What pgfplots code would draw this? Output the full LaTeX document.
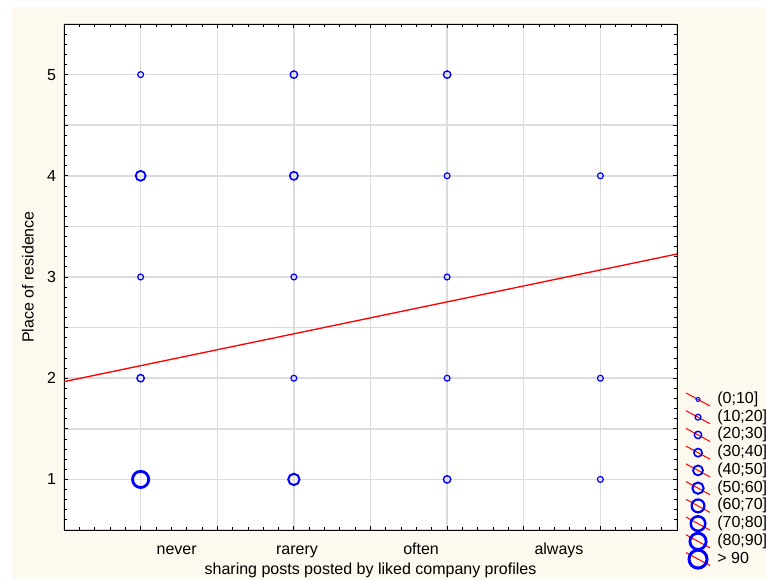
\documentclass[border=0pt]{standalone}
\usepackage{fontspec}
\setmainfont{Liberation Sans}
\usepackage{pgfplots}
\pgfplotsset{compat=1.18}
\usetikzlibrary{backgrounds}
\definecolor{cream}{RGB}{253,249,238}
\definecolor{gridgray}{RGB}{220,220,220}
\pgfplotsset{
  bub/.style 2 args={only marks, mark=o, color=blue, mark size=#1,
    mark options={line width=#2, draw=blue, solid},
    legend image code/.code={
      \path[draw=none,fill=none] (0pt,-6.5pt) rectangle (18pt,6.5pt);
      \draw[overlay,red,line width=0.75pt] (0pt,4.9pt) -- (18pt,-4.9pt);
      \draw[overlay,blue,line width=#2,fill=none] (9pt,0pt) circle (#1);
    }},
  cA/.style={bub={1.5pt}{0.75pt}},
  cB/.style={bub={2.2pt}{0.9pt}},
  cC/.style={bub={2.75pt}{1.05pt}},
  cD/.style={bub={3.1pt}{1.2pt}},
  cE/.style={bub={3.71pt}{1.35pt}},
  cF/.style={bub={4.24pt}{1.5pt}},
  cG/.style={bub={4.8pt}{1.65pt}},
  cH/.style={bub={5.44pt}{1.88pt}},
  cI/.style={bub={6.08pt}{2.1pt}},
  cJ/.style={bub={6.75pt}{2.25pt}},
}
\begin{document}
\begin{tikzpicture}[x=0.75pt,y=0.75pt]
\begin{axis}[
  scale only axis, width=459.75pt, height=379.5pt,
  font=\fontsize{12}{14}\selectfont,
  /pgf/number format/assume math mode=true,
  axis background/.style={fill=white},
  axis line style={black, line width=0.75pt},
  xmin=0.5, xmax=4.5, ymin=0.5, ymax=5.5,
  xtick={0.5,1,...,4.5}, ytick={0.5,1,...,5.5},
  xticklabels={,,,,,,,,},
  yticklabels={,1,,2,,3,,4,,5,},
  minor x tick num=4, minor y tick num=4,
  tick align=inside, tick pos=both,
  major tick length=3pt, minor tick length=2pt,
  tick style={black, line width=0.6pt},
  grid=major,
  major grid style={gridgray, line width=1.1pt},
  yticklabel style={xshift=-2.5pt},
  extra x ticks={1.235,2.02,2.83,3.73},
  extra x tick labels={never,rarery,often,always},
  extra x tick style={grid=none, major tick length=0pt,
    tick label style={anchor=base, yshift=-18.5pt}},
  xlabel={sharing posts posted by liked company profiles},
  xlabel style={at={(axis description cs:0.5,0)}, anchor=base, yshift=-33.5pt},
  ylabel={Place of residence},
  ylabel style={at={(axis description cs:-0.0587,0.5)}, anchor=center},
  legend style={draw=none, fill=none, inner sep=0pt, outer sep=0pt,
    at={(axis description cs:1.0147,0.2751)}, anchor=north west,
    row sep=0.3pt, column sep=5.5pt,
    nodes={inner sep=0pt, text height=9pt, text depth=3pt},
    legend cell align=left, font=\fontsize{12}{14}\selectfont},
]
\addplot[red, line width=1pt, forget plot] coordinates {(0.5,1.966) (4.5,3.227)};
\addlegendimage{cA}
\addlegendentry{{(0;10]}}
\addplot[cB] coordinates {(1,5) (1,3) (2,3) (2,2) (3,4) (3,3) (3,2) (4,4) (4,2) (4,1)};
\addlegendentry{{(10;20]}}
\addplot[cC] coordinates {(2,5) (3,5) (1,2) (3,1)};
\addlegendentry{{(20;30]}}
\addplot[cD] coordinates {(2,4)};
\addlegendentry{{(30;40]}}
\addplot[cE] coordinates {(1,4)};
\addlegendentry{{(40;50]}}
\addplot[cF] coordinates {(2,1)};
\addlegendentry{{(50;60]}}
\addlegendimage{cG}
\addlegendentry{{(60;70]}}
\addlegendimage{cH}
\addlegendentry{{(70;80]}}
\addplot[cI] coordinates {(1,1)};
\addlegendentry{{(80;90]}}
\addlegendimage{cJ}
\addlegendentry{{> 90}}
\coordinate (ll) at (rel axis cs:0,0);
\end{axis}
\begin{scope}[on background layer]
\fill[white] ([shift={(-64,-49)}]ll) rectangle ([shift={(702,530)}]ll);
\fill[cream] ([shift={(-52,-49)}]ll) rectangle ([shift={(702,523)}]ll);
\end{scope}
\pgfresetboundingbox
\useasboundingbox ([shift={(-64,-49)}]ll) rectangle ([shift={(702,530)}]ll);
\end{tikzpicture}
\end{document}
